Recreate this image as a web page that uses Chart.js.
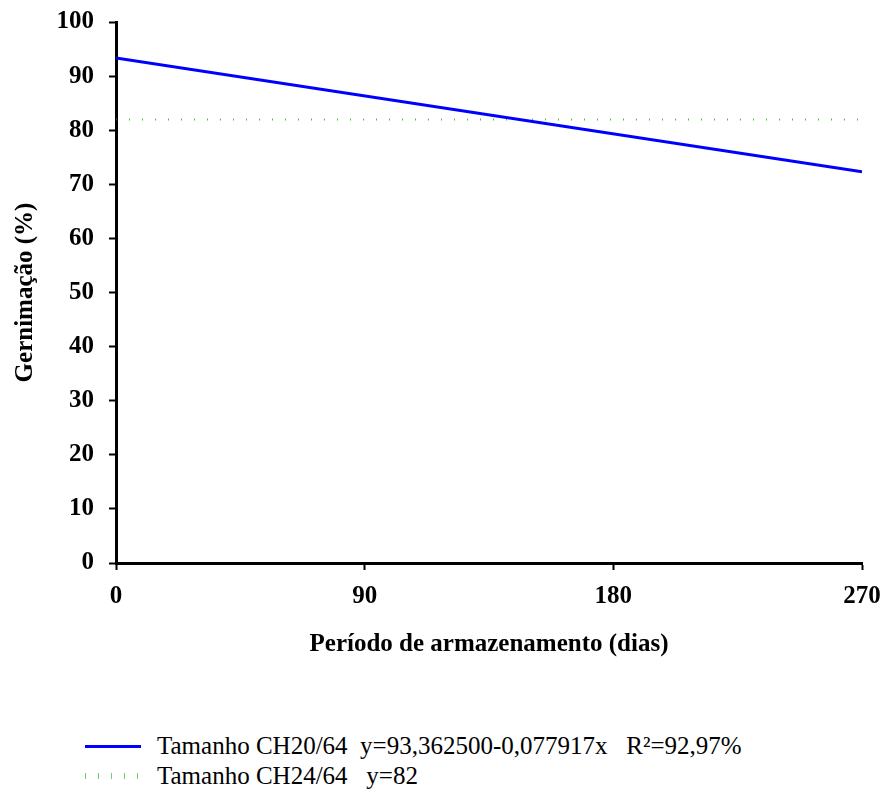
<!DOCTYPE html>
<html>
<head>
<meta charset="utf-8">
<script src="https://cdn.jsdelivr.net/npm/chart.js@4"></script>
<style>
    body { margin: 0; background: #fff; }
    #wrap { position: relative; width: 884px; height: 794px; }
    #chart { position: absolute; left: 0; top: 0; }
    .legend-row { position: absolute; left: 85px; height: 30px; display: flex; align-items: center;
        font-family: 'Liberation Serif', 'Times New Roman', serif; font-size: 25px; color: #000; white-space: pre; }
    .sample { width: 56px; margin-right: 16px; }
    .solid { height: 3px; background: #0000ff; }
    .dotted { height: 6px; background: repeating-linear-gradient(90deg, rgba(0,170,0,0.55) 0 1px, transparent 1px 13px); }
</style>
</head>
<body>
<div id="wrap">
    <canvas id="chart" width="884" height="700"></canvas>
    <div class="legend-row" style="top: 731px;"><div class="sample solid"></div><span>Tamanho CH20/64  y=93,362500-0,077917x   R²=92,97%</span></div>
    <div class="legend-row" style="top: 761px;"><div class="sample dotted"></div><span>Tamanho CH24/64   y=82</span></div>
</div>
<script>
const days = [0, 270];
const ch20 = [93.3625, 72.325];
const ch24 = [82, 82];
const xTicks = [0, 90, 180, 270];

const serif = "'Liberation Serif', 'Times New Roman', serif";

const toPoints = (xs, ys) => xs.map((x, i) => ({ x: x, y: ys[i] }));

var ctx = document.getElementById('chart').getContext('2d');
var chart = new Chart(ctx, { //eslint-disable-line
    type: 'line',
    data: {
        datasets: [{
            label: 'Tamanho CH20/64',
            data: toPoints(days, ch20),
            borderColor: '#0000ff',
            borderWidth: 3,
            pointRadius: 0
        },
        {
            label: 'Tamanho CH24/64',
            data: toPoints(days, ch24),
            borderColor: 'rgba(0,160,0,0.7)',
            borderWidth: 2,
            borderDash: [1, 12],
            pointRadius: 0
        }]
    },
    options: {
        responsive: false,
        animation: false,
        layout: { padding: { top: 22, right: 22, left: 0, bottom: 0 } },
        plugins: { legend: { display: false }, tooltip: { enabled: false } },
        scales: {
            x: {
                type: 'linear',
                min: 0,
                max: 270,
                afterBuildTicks: (scale) => { scale.ticks = xTicks.map(v => ({ value: v })); },
                afterFit: (scale) => {
                    scale.height = 137;
                    scale.paddingLeft = 0;
                    scale.paddingRight = 0;
                },
                border: { color: '#000', width: 3 },
                grid: { drawOnChartArea: false, tickLength: 7, tickColor: '#000', tickWidth: 2 },
                ticks: { color: '#000', padding: 12, maxRotation: 0, font: { family: serif, size: 25, weight: 'bold' } },
                title: {
                    display: true,
                    text: 'Período de armazenamento (dias)',
                    color: '#000',
                    font: { family: serif, size: 25, weight: 'bold' },
                    padding: { top: 0, bottom: 40 }
                }
            },
            y: {
                min: 0,
                max: 100,
                afterFit: (scale) => {
                    scale.width = 116;
                    scale.paddingTop = 0;
                    scale.paddingBottom = 0;
                },
                border: { color: '#000', width: 3 },
                grid: { drawOnChartArea: false, tickLength: 7, tickColor: '#000', tickWidth: 2 },
                ticks: { stepSize: 10, color: '#000', padding: 15, font: { family: serif, size: 25, weight: 'bold' } },
                title: {
                    display: true,
                    text: 'Gernimação (%)',
                    color: '#000',
                    font: { family: serif, size: 25, weight: 'bold' },
                    padding: { top: 11, bottom: 0 }
                }
            }
        }
    }
});
</script>
</body>
</html>
